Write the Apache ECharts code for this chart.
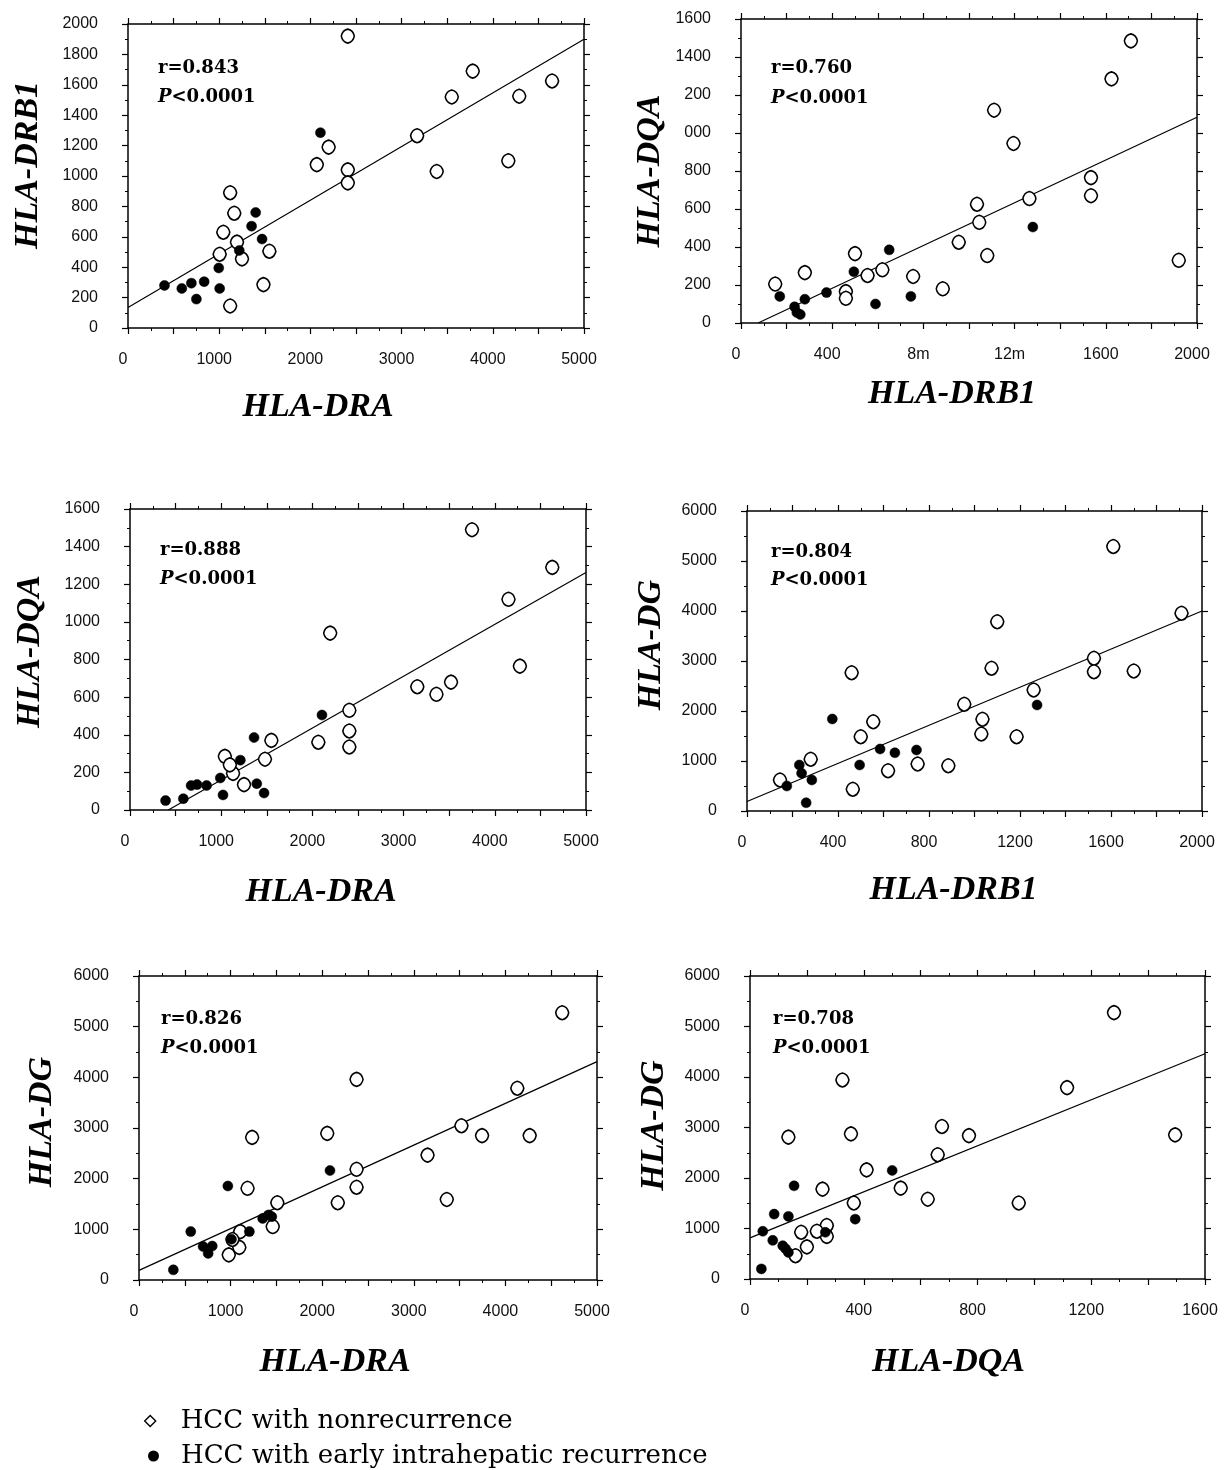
<!DOCTYPE html>
<html>
<head>
<meta charset="utf-8">
<script src="https://cdn.jsdelivr.net/npm/echarts@6/dist/echarts.min.js"></script>
<style>
html,body{margin:0;padding:0;background:#fff;}
#c{width:1226px;height:1470px;}
</style>
</head>
<body>
<div id="c"></div>
<script>
// ---------- data ----------
const seriesNames = ['HCC with nonrecurrence', 'HCC with early intrahepatic recurrence'];

// Panel 1: HLA-DRA vs HLA-DRB1
const p1Open = [[2410,1920],[3780,1690],[3550,1520],[4650,1625],[4290,1525],[3170,1265],[2200,1190],[2070,1075],[2410,1040],[2410,955],[3385,1030],[4170,1100],[1120,890],[1165,755],[1045,630],[1195,565],[1005,485],[1250,455],[1550,505],[1485,285],[1120,145]];
const p1Rec = [[2110,1285],[1400,760],[1355,670],[1470,585],[1220,510],[995,395],[1005,260],[400,280],[590,260],[695,295],[835,305],[750,190]];
const p1Fit = [[0,135],[5000,1900]];
const p1XLabels = ['0','1000','2000','3000','4000','5000'];
const p1YLabels = ['0','200','400','600','800','1000','1200','1400','1600','1800','2000'];

// Panel 2: HLA-DRB1 vs HLA-DQA
const p2Open = [[1710,1485],[1625,1285],[1110,1120],[1195,945],[1535,765],[1535,670],[1265,655],[1035,625],[1045,530],[955,425],[1080,355],[1920,330],[885,180],[755,245],[620,280],[555,250],[500,365],[280,265],[150,205],[460,165],[460,130]];
const p2Rec = [[1280,505],[650,385],[495,270],[375,160],[280,125],[170,140],[590,100],[745,140],[235,85],[245,55],[260,45]];
const p2Fit = [[75,0],[2000,1083]];
const p2XLabels = ['0','400','8m','12m','1600','2000'];
const p2YLabels = ['0','200','400','600','800','000','200','1400','1600'];

// Panel 3: HLA-DRA vs HLA-DQA
const p3Open = [[3750,1490],[4630,1290],[4150,1120],[4275,765],[2195,940],[3150,655],[3360,615],[3520,680],[2405,530],[2405,420],[2405,335],[2065,360],[1550,370],[1480,270],[1040,285],[1130,195],[1250,135],[1095,240]];
const p3Rec = [[2105,505],[1360,385],[1210,265],[990,170],[1020,80],[1390,140],[1470,90],[735,135],[670,130],[840,130],[585,60],[390,50]];
const p3Fit = [[420,0],[5000,1263]];
const p3XLabels = ['0','1000','2000','3000','4000','5000'];
const p3YLabels = ['0','200','400','600','800','1000','1200','1400','1600'];

// Panel 4: HLA-DRB1 vs HLA-DG
const p4Open = [[1610,5290],[1910,3955],[1100,3785],[1075,2855],[1525,3055],[1525,2785],[1700,2800],[1260,2420],[460,2765],[955,2135],[1035,1835],[1030,1540],[1185,1485],[555,1785],[500,1485],[750,940],[885,905],[620,805],[280,1035],[145,620],[465,435]];
const p4Rec = [[1275,2120],[375,1840],[585,1240],[650,1165],[745,1220],[495,920],[230,920],[240,755],[285,620],[175,500],[260,165]];
const p4Fit = [[0,190],[2000,4000]];
const p4XLabels = ['0','400','800','1200','1600','2000'];
const p4YLabels = ['0','1000','2000','3000','4000','5000','6000'];

// Panel 5: HLA-DRA vs HLA-DG
const p5Open = [[4620,5275],[2375,3960],[4130,3785],[3520,3045],[3745,2850],[4265,2850],[2055,2895],[1235,2815],[3150,2465],[2375,2185],[2375,1830],[3360,1590],[2170,1525],[1185,1810],[1510,1525],[1460,1055],[1105,955],[1095,645],[980,495],[1020,800]];
const p5Rec = [[2085,2160],[970,1855],[565,955],[1205,955],[1010,805],[1350,1215],[1415,1285],[1450,1250],[700,660],[800,670],[755,525],[375,200]];
const p5Fit = [[0,190],[5000,4310]];
const p5XLabels = ['0','1000','2000','3000','4000','5000'];
const p5YLabels = ['0','1000','2000','3000','4000','5000','6000'];

// Panel 6: HLA-DQA vs HLA-DG
const p6Open = [[1280,5275],[1115,3790],[1495,2855],[325,3940],[135,2810],[355,2875],[675,3020],[770,2840],[660,2460],[410,2160],[530,1800],[255,1780],[365,1505],[625,1580],[945,1505],[270,1060],[270,845],[235,945],[180,925],[200,635],[160,460]];
const p6Rec = [[500,2150],[155,1845],[85,1285],[135,1240],[370,1185],[45,945],[80,765],[115,660],[135,525],[265,925],[40,200],[125,600]];
const p6Fit = [[0,815],[1600,4460]];
const p6XLabels = ['0','400','800','1200','1600'];
const p6YLabels = ['0','1000','2000','3000','4000','5000','6000'];

const statR = ['r=0.843','r=0.760','r=0.888','r=0.804','r=0.826','r=0.708'];
const statP = ['<0.0001','<0.0001','<0.0001','<0.0001','<0.0001','<0.0001'];

// ---------- layout ----------
const panels = [
  {grid:{left:128,top:24,width:456,height:304}, xName:'HLA-DRA', yName:'HLA-DRB1',
   xMax:5000, xTick:500, xStep:1000, xLabels:p1XLabels, yMax:2000, yTick:200, yStep:200, yLabels:p1YLabels,
   open:p1Open, rec:p1Rec, fit:p1Fit, xShift:-38, xDist:79, yShift:11, yDist:101, txt:[158,68,97]},
  {grid:{left:741,top:19,width:456,height:304}, xName:'HLA-DRB1', yName:'HLA-DQA',
   xMax:2000, xTick:200, xStep:400, xLabels:p2XLabels, yMax:1600, yTick:200, yStep:200, yLabels:p2YLabels,
   open:p2Open, rec:p2Rec, fit:p2Fit, xShift:-17, xDist:71, yShift:0, yDist:92, txt:[771,68,98]},
  {grid:{left:130,top:509,width:456,height:301}, xName:'HLA-DRA', yName:'HLA-DQA',
   xMax:5000, xTick:500, xStep:1000, xLabels:p3XLabels, yMax:1600, yTick:200, yStep:200, yLabels:p3YLabels,
   open:p3Open, rec:p3Rec, fit:p3Fit, xShift:-37, xDist:82, yShift:8, yDist:101, txt:[160,550,579]},
  {grid:{left:747,top:511,width:455,height:300}, xName:'HLA-DRB1', yName:'HLA-DG',
   xMax:2000, xTick:200, xStep:400, xLabels:p4XLabels, yMax:6000, yTick:1000, yStep:1000, yLabels:p4YLabels,
   open:p4Open, rec:p4Rec, fit:p4Fit, xShift:-21, xDist:79, yShift:16, yDist:97, txt:[771,552,580]},
  {grid:{left:139,top:976,width:458,height:304}, xName:'HLA-DRA', yName:'HLA-DG',
   xMax:5000, xTick:500, xStep:1000, xLabels:p5XLabels, yMax:6000, yTick:1000, yStep:1000, yLabels:p5YLabels,
   open:p5Open, rec:p5Rec, fit:p5Fit, xShift:-33, xDist:82, yShift:6, yDist:98, txt:[161,1019,1048]},
  {grid:{left:750,top:976,width:455,height:303}, xName:'HLA-DQA', yName:'HLA-DG',
   xMax:1600, xTick:200, xStep:400, xLabels:p6XLabels, yMax:6000, yTick:1000, yStep:1000, yLabels:p6YLabels,
   open:p6Open, rec:p6Rec, fit:p6Fit, xShift:-29, xDist:83, yShift:2, yDist:97, txt:[773,1019,1048]}
];

const INK = '#000';
const OPEN_SYMBOL = 'path://M0,-10 C5,-9 9,-5 10,0 C9,5 5,9 0,10 C-5,9 -9,5 -10,0 C-9,-5 -5,-9 0,-10 Z';
const LEGEND_DIAMOND = 'path://M0,-10 L10,0 L0,10 L-10,0 Z';

function labelFormatter(labels, step) {
  return function (v) {
    const i = Math.round(v / step);
    if (Math.abs(v - i * step) > 1e-6) return '';
    return labels[i] !== undefined ? labels[i] : '';
  };
}

const axisLineStyle = {show:true, onZero:false, lineStyle:{color:INK, width:1.5}};
const tickStyle = {show:true, inside:false, length:6, lineStyle:{color:INK, width:1.2}};
const minorStyle = {show:true, splitNumber:2, length:3, lineStyle:{color:INK, width:1}};
const titleFont = {fontFamily:'Liberation Serif', fontStyle:'italic', fontWeight:'bold', fontSize:34, color:INK};
const tickFont = {color:'#111', fontFamily:'Liberation Sans', fontSize:16};

const grids = [], xAxes = [], yAxes = [], series = [], graphics = [];

panels.forEach((p, i) => {
  grids.push(Object.assign({containLabel:false}, p.grid));
  // bottom x axis
  xAxes.push({
    gridIndex:i, type:'value', position:'bottom', min:0, max:p.xMax, interval:p.xTick,
    axisLine:axisLineStyle, axisTick:tickStyle, minorTick:minorStyle, splitLine:{show:false},
    axisLabel:Object.assign({formatter:labelFormatter(p.xLabels, p.xStep),
      margin:24, padding:[0,10,0,0], showMinLabel:true, showMaxLabel:true, hideOverlap:false}, tickFont),
    name:p.xName, nameLocation:'middle', nameGap:p.xDist - 17,
    nameTextStyle:Object.assign({padding:[0, -2 * p.xShift, 0, 0]}, titleFont)
  });
  // top x axis (frame)
  xAxes.push({
    gridIndex:i, type:'value', position:'top', min:0, max:p.xMax, interval:p.xTick,
    axisLine:axisLineStyle, axisTick:tickStyle, minorTick:minorStyle, splitLine:{show:false},
    axisLabel:{show:false}
  });
  // left y axis
  yAxes.push({
    gridIndex:i, type:'value', position:'left', min:0, max:p.yMax, interval:p.yTick,
    axisLine:axisLineStyle, axisTick:tickStyle, minorTick:minorStyle, splitLine:{show:false},
    axisLabel:Object.assign({formatter:labelFormatter(p.yLabels, p.yStep),
      margin:30, showMinLabel:true, showMaxLabel:true, hideOverlap:false}, tickFont),
    name:p.yName, nameLocation:'middle', nameRotate:90, nameGap:p.yDist - 18,
    nameTextStyle:Object.assign({padding:[0, 0, 0, 2 * p.yShift]}, titleFont)
  });
  // right y axis (frame)
  yAxes.push({
    gridIndex:i, type:'value', position:'right', min:0, max:p.yMax, interval:p.yTick,
    axisLine:axisLineStyle, axisTick:tickStyle, minorTick:minorStyle, splitLine:{show:false},
    axisLabel:{show:false}
  });

  series.push({
    name:'Regression line', type:'line', xAxisIndex:2*i, yAxisIndex:2*i, data:p.fit,
    symbol:'none', silent:true, z:1, lineStyle:{color:INK, width:1.2}
  });
  series.push({
    name:seriesNames[0], type:'scatter', xAxisIndex:2*i, yAxisIndex:2*i, data:p.open,
    symbol:OPEN_SYMBOL, symbolSize:[13,14], z:3,
    itemStyle:{color:'#fff', borderColor:INK, borderWidth:1.6, opacity:1}
  });
  series.push({
    name:seriesNames[1], type:'scatter', xAxisIndex:2*i, yAxisIndex:2*i, data:p.rec,
    symbol:'circle', symbolSize:10, z:4,
    itemStyle:{color:INK, borderColor:INK, borderWidth:0.5, opacity:1}
  });

  graphics.push({
    type:'text', x:p.txt[0], y:p.txt[1],
    style:{text:statR[i], fontFamily:'DejaVu Serif', fontWeight:'bold', fontSize:18, fill:INK, verticalAlign:'middle', align:'left'}
  });
  graphics.push({
    type:'text', x:p.txt[0], y:p.txt[2],
    style:{text:'{i|P}' + statP[i], fontFamily:'DejaVu Serif', fontWeight:'bold', fontSize:18, fill:INK, verticalAlign:'middle', align:'left',
      rich:{i:{fontFamily:'DejaVu Serif', fontStyle:'italic', fontWeight:'bold', fontSize:18, fill:INK}}}
  });
});

const legendText = {fontFamily:'DejaVu Serif', fontSize:26, color:INK};

const chart = echarts.init(document.getElementById('c'), null, {renderer:'canvas', width:1226, height:1470});
chart.setOption({
  backgroundColor:'#fff',
  animation:false,
  grid:grids,
  xAxis:xAxes,
  yAxis:yAxes,
  series:series,
  graphic:graphics,
  legend:[
    {left:144, top:1408, padding:0, itemWidth:11, itemHeight:11, selectedMode:false,
     textStyle:Object.assign({padding:[0,0,0,20]}, legendText),
     data:[{name:seriesNames[0], icon:LEGEND_DIAMOND, itemStyle:{color:'#fff', borderColor:INK, borderWidth:1.4}}]},
    {left:148, top:1443, padding:0, itemWidth:9, itemHeight:9, selectedMode:false,
     textStyle:Object.assign({padding:[0,0,0,18]}, legendText),
     data:[{name:seriesNames[1], icon:'circle'}]}
  ]
});
</script>
</body>
</html>
